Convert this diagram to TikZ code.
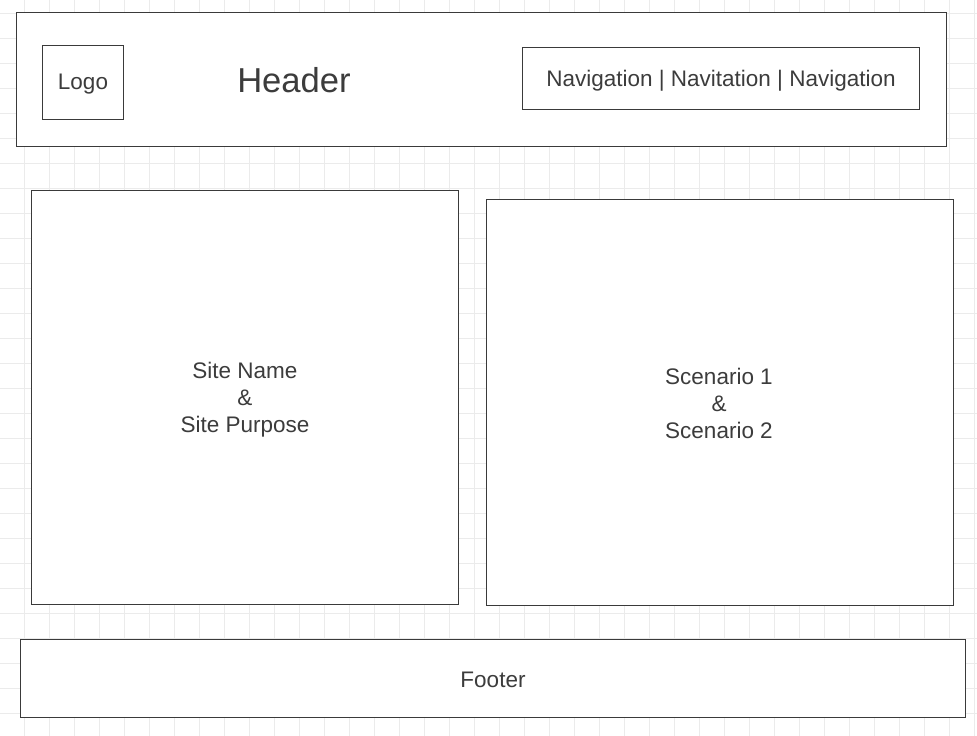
\documentclass[tikz,border=0pt]{standalone}
\usepackage{fontspec}
\setmainfont{Liberation Sans}
\definecolor{gridc}{HTML}{EBEBEB}
\definecolor{linec}{HTML}{3A3A3A}
\definecolor{textc}{HTML}{3C3C3C}
\tikzset{
  box/.style={draw=linec, line width=1pt, fill=white, text=textc},
  lbl/.style={text=textc, align=center, font=\fontsize{22.5}{27}\selectfont},
}
\begin{document}
\begin{tikzpicture}[x=1pt,y=-1pt]
\useasboundingbox (0,0) rectangle (977,736);
\fill[white] (0,0) rectangle (977,736);
% grid
\foreach \i in {0,...,38} {\draw[gridc, line width=1pt] ({24.5+25*\i},0) -- ({24.5+25*\i},736);}
\foreach \j in {0,...,29} {\draw[gridc, line width=1pt] (0,{13.5+25*\j}) -- (977,{13.5+25*\j});}
% boxes
\draw[box] (16.5,12.5) rectangle (946.5,146.5);
\draw[box] (42.5,45.5) rectangle (123.5,119.5);
\node[lbl] (logo) at (83,84) {Logo};
\node[lbl, font=\fontsize{34.6}{40}\selectfont] (header) at (294,80.5) {Header};
\draw[box] (522.5,47.5) rectangle (919.5,109.5);
\node[lbl] (nav) at (721,80.5) {Navigation | Navitation | Navigation};
\draw[box] (31.5,190.5) rectangle (458.5,604.5);
\node[lbl] (site) at (245,399.5) {Site Name\\\&\\Site Purpose};
\draw[box] (486.5,199.5) rectangle (953.5,605.5);
\node[lbl] (scen) at (719,403) {Scenario 1\\\&\\Scenario 2};
\draw[box] (20.5,639.5) rectangle (965.5,717.5);
\node[lbl] (footer) at (493,679.5) {Footer};
\end{tikzpicture}
\end{document}
